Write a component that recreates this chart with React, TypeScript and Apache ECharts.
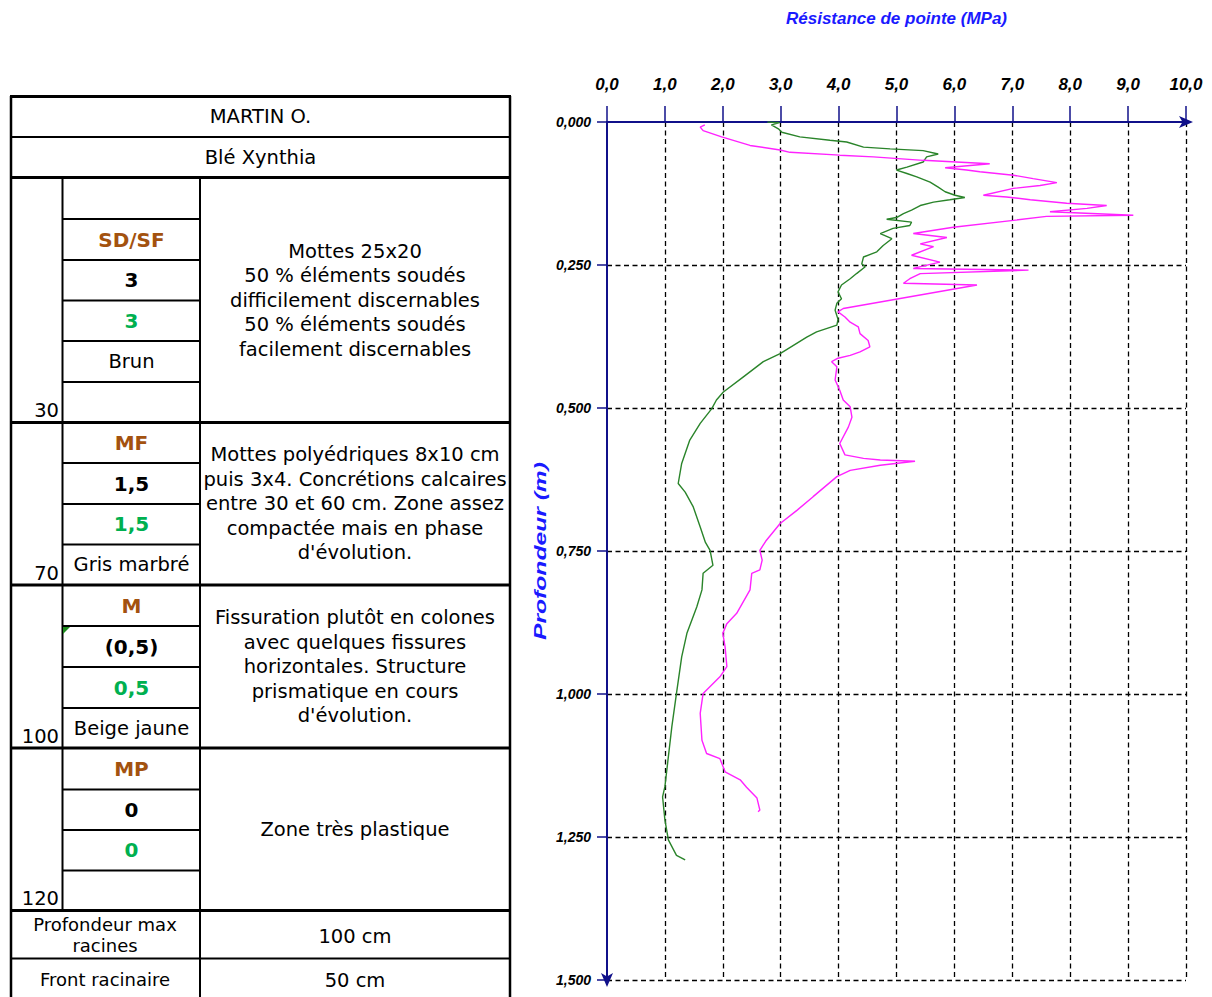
import React, { useEffect, useRef } from 'react';
import * as echarts from 'echarts';

// ---------- chart data (MPa vs depth in m) ----------
const greenValue = [
  2.77, 2.98, 2.84, 2.96, 3.02, 3.33, 3.85, 4.14, 4.43, 4.89,
  5.46, 5.72, 5.52, 5.46, 5.18, 5.0, 5.18, 5.35, 5.58, 5.72,
  5.84, 6.01, 6.18, 5.92, 5.64, 5.41, 5.26, 5.12, 5.0, 4.83,
  5.26, 5.23, 4.94, 4.72, 4.92, 4.77, 4.66, 4.43, 4.4, 4.46,
  4.31, 4.2, 4.05, 3.99, 4.05, 3.97, 3.94, 3.99, 3.97, 3.62,
  3.45, 2.99, 2.7, 2.35, 2.01, 1.89, 1.81, 1.61, 1.43, 1.29,
  1.23, 1.35, 1.49, 1.61, 1.7, 1.78, 1.83, 1.66, 1.64, 1.55,
  1.38, 1.29, 1.2, 1.12, 1.0, 0.96, 1.0, 1.06, 1.2, 1.35,
];
const greenDepth = [
  0.0, 0.001, 0.005, 0.012, 0.018, 0.026, 0.032, 0.035, 0.044, 0.047,
  0.05, 0.056, 0.061, 0.07, 0.079, 0.084, 0.09, 0.096, 0.105, 0.114,
  0.122, 0.128, 0.132, 0.136, 0.14, 0.146, 0.154, 0.16, 0.167, 0.17,
  0.175, 0.181, 0.186, 0.195, 0.204, 0.216, 0.227, 0.236, 0.248, 0.253,
  0.265, 0.274, 0.285, 0.297, 0.309, 0.317, 0.329, 0.345, 0.355, 0.367,
  0.376, 0.405, 0.419, 0.446, 0.472, 0.486, 0.501, 0.527, 0.556, 0.597,
  0.632, 0.647, 0.673, 0.708, 0.735, 0.749, 0.775, 0.789, 0.818, 0.848,
  0.894, 0.935, 0.999, 1.057, 1.162, 1.18, 1.22, 1.255, 1.282, 1.29,
];
const magentaValue = [
  1.69, 1.61, 1.66, 1.98, 2.47, 2.99, 3.16, 4.02, 4.6, 5.46,
  6.61, 5.84, 6.21, 6.44, 7.02, 7.36, 7.77, 7.48, 7.02, 6.5,
  6.9, 7.31, 7.94, 8.63, 8.29, 7.65, 9.09, 7.59, 7.02, 5.98,
  5.29, 5.87, 5.41, 5.64, 5.26, 5.75, 5.29, 7.28, 5.41, 5.23,
  5.12, 6.39, 4.08, 3.99, 4.11, 4.2, 4.34, 4.37, 4.51, 4.54,
  4.37, 4.2, 3.99, 3.88, 3.97, 3.94, 4.02, 4.08, 4.2, 4.23,
  4.17, 4.02, 4.11, 4.43, 4.72, 5.32, 4.72, 4.2, 3.97, 3.56,
  3.28, 2.99, 2.74, 2.64, 2.68, 2.64, 2.5, 2.47, 2.24, 2.07,
  2.0, 2.04, 2.07, 1.95, 1.66, 1.61, 1.64, 1.72, 1.95, 2.04,
  2.3, 2.41, 2.59, 2.64, 2.61,
];
const magentaDepth = [
  0.005, 0.009, 0.015, 0.026, 0.041, 0.049, 0.053, 0.058, 0.061, 0.067,
  0.073, 0.08, 0.084, 0.087, 0.093, 0.099, 0.106, 0.111, 0.116, 0.128,
  0.131, 0.136, 0.142, 0.146, 0.151, 0.157, 0.163, 0.165, 0.172, 0.184,
  0.195, 0.202, 0.213, 0.218, 0.233, 0.245, 0.256, 0.259, 0.265, 0.274,
  0.282, 0.285, 0.326, 0.332, 0.341, 0.35, 0.358, 0.37, 0.382, 0.393,
  0.402, 0.408, 0.413, 0.419, 0.428, 0.451, 0.469, 0.486, 0.498, 0.516,
  0.533, 0.562, 0.582, 0.588, 0.591, 0.593, 0.6, 0.609, 0.62, 0.655,
  0.679, 0.702, 0.733, 0.749, 0.766, 0.783, 0.789, 0.818, 0.859, 0.877,
  0.894, 0.918, 0.952, 0.97, 0.999, 1.034, 1.081, 1.104, 1.113, 1.136,
  1.15, 1.163, 1.182, 1.203, 1.206,
];

// ---------- table texts ----------
const headerRows = ['MARTIN O.', 'Blé Xynthia'];
const horizonDepths = ['30', '70', '100', '120'];
const horizonClasses = ['SD/SF', 'MF', 'M', 'MP'];
const horizonBlackValues = ['3', '1,5', '(0,5)', '0'];
const horizonGreenValues = ['3', '1,5', '0,5', '0'];
const horizonColours = ['Brun', 'Gris marbré', 'Beige jaune', ''];
const horizonDescriptions = [
  'Mottes 25x20\n50 % éléments soudés\ndifficilement discernables\n50 % éléments soudés\nfacilement discernables',
  "Mottes polyédriques 8x10 cm\npuis 3x4. Concrétions calcaires\nentre 30 et 60 cm. Zone assez\ncompactée mais en phase\nd'évolution.",
  "Fissuration plutôt en colones\navec quelques fissures\nhorizontales. Structure\nprismatique en cours\nd'évolution.",
  'Zone très plastique',
];
const footerLabels = ['Profondeur max\nracines', 'Front racinaire'];
const footerValues = ['100 cm', '50 cm'];

const xAxisTitle = 'Résistance de pointe (MPa)';
const yAxisTitle = 'Profondeur (m)';

// ---------- layout (positions only) ----------
const TL = 11; // table left
const TR = 510; // table right
const C1 = 62.5;
const C2 = 200;
const FONT = 'DejaVu Sans';
const BROWN = '#a3520f';
const GREEN_TXT = '#00b050';
const MAIN_SIZE = 19.5;

// sub-row boundaries for each horizon (col 2)
const horizonRowY = [
  [177.5, 219, 260, 300.5, 341, 382, 422.5],
  [422.5, 463, 504, 544.5, 585],
  [585, 626, 667, 708, 748],
  [748, 789.5, 830, 870.5, 910.5],
];

function hline(y: number, x1: number, x2: number, w: number) {
  return { type: 'line', silent: true, shape: { x1, y1: y, x2, y2: y }, style: { stroke: '#000', lineWidth: w } };
}
function vline(x: number, y1: number, y2: number, w: number) {
  return { type: 'line', silent: true, shape: { x1: x, y1, x2: x, y2 }, style: { stroke: '#000', lineWidth: w } };
}
function txt(text: string, x: number, y: number, opts: any = {}) {
  const align = opts.align || 'center';
  return {
    type: 'text',
    silent: true,
    x,
    y,
    style: {
      text,
      fill: opts.color || '#000',
      font: `${opts.weight || 'normal'} ${opts.size || MAIN_SIZE}px "${FONT}"`,
      textAlign: align,
      align,
      textVerticalAlign: 'middle',
      verticalAlign: 'middle',
      lineHeight: opts.lineHeight || 24.5,
    },
  };
}

function buildTable() {
  const g: any[] = [];
  // header
  g.push(txt(headerRows[0], 260.5, 116.5));
  g.push(txt(headerRows[1], 260.5, 157));
  // horizons
  horizonRowY.forEach((rows, h) => {
    const top = rows[0];
    const bottom = rows[rows.length - 1];
    let cells: string[];
    if (h === 0) cells = ['', horizonClasses[h], horizonBlackValues[h], horizonGreenValues[h], horizonColours[h], ''];
    else cells = [horizonClasses[h], horizonBlackValues[h], horizonGreenValues[h], horizonColours[h]];
    const offset = h === 0 ? 1 : 0;
    cells.forEach((c, i) => {
      if (!c) return;
      const cy = (rows[i] + rows[i + 1]) / 2;
      const k = i - offset;
      let color = '#000';
      let weight = 'normal';
      let size = MAIN_SIZE;
      if (k === 0) { color = BROWN; weight = 'bold'; size = 20; }
      if (k === 1) { weight = 'bold'; size = 20; }
      if (k === 2) { color = GREEN_TXT; weight = 'bold'; size = 20; }
      g.push(txt(c, 131.5, cy, { color, weight, size }));
    });
    for (let i = 1; i < rows.length - 1; i++) g.push(hline(rows[i], C1, C2, 2));
    // depth label
    g.push(txt(horizonDepths[h], 59, bottom - 12, { align: 'right' }));
    // description
    g.push(txt(horizonDescriptions[h], 355, (top + bottom) / 2));
    g.push(hline(bottom, TL, TR, 3));
  });
  // footer
  g.push(txt(footerLabels[0], 105, 935, { size: 18, lineHeight: 21 }));
  g.push(txt(footerValues[0], 355, 936));
  g.push(txt(footerLabels[1], 105, 979.5, { size: 18 }));
  g.push(txt(footerValues[1], 355, 980));
  // grid lines
  g.push(hline(96.5, TL - 1, TR + 1, 3));
  g.push(hline(137, TL, TR, 2));
  g.push(hline(177.5, TL, TR, 3));
  g.push(hline(958.5, TL, TR, 2));
  g.push(vline(TL, 96, 997, 2.5));
  g.push(vline(TR, 96, 997, 2.5));
  g.push(vline(C1, 177, 910, 2));
  g.push(vline(C2, 177, 997, 2));
  // comment indicator
  g.push({ type: 'polygon', silent: true, shape: { points: [[63, 627], [70, 627], [63, 634]] }, style: { fill: '#1e8a1e' } });
  // y-axis title (stretched like the original)
  g.push({
    type: 'text',
    silent: true,
    x: 540,
    y: 551,
    rotation: Math.PI / 2,
    scaleX: 1.45,
    style: {
      text: yAxisTitle,
      fill: '#1a1aff',
      font: 'italic bold 17px "Liberation Sans"',
      textAlign: 'center',
      align: 'center',
      textVerticalAlign: 'middle',
      verticalAlign: 'middle',
    },
  });
  return g;
}

const axisBlue = '#10108a';
const tickFont = { color: '#000', fontFamily: 'Liberation Sans', fontWeight: 'bold', fontStyle: 'italic' };

export default function App() {
  const ref = useRef<HTMLDivElement>(null);
  useEffect(() => {
    if (!ref.current) return;
    const chart = echarts.init(ref.current, null, { renderer: 'svg' });
    const option: any = {
      animation: false,
      backgroundColor: '#fff',
      grid: { left: 607, top: 122, width: 579, height: 858, containLabel: false },
      xAxis: {
        type: 'value',
        position: 'top',
        min: 0,
        max: 10,
        interval: 1,
        name: xAxisTitle,
        nameLocation: 'middle',
        nameGap: 95,
        nameTextStyle: { color: '#1a1aff', fontFamily: 'Liberation Sans', fontWeight: 'bold', fontStyle: 'italic', fontSize: 17 },
        axisLine: { show: true, symbol: ['none', 'arrow'], symbolSize: [9, 14], symbolOffset: [0, 7], lineStyle: { color: axisBlue, width: 2 } },
        axisTick: { show: true, inside: false, length: 16, lineStyle: { color: axisBlue, width: 1.5 } },
        axisLabel: {
          ...tickFont,
          margin: 29,
          fontSize: 17,
          formatter: (v: number) => v.toFixed(1).replace('.', ','),
        },
        splitLine: { show: true, showMinLine: false, lineStyle: { color: '#000', width: 1.3, type: [5, 3.5] } },
      },
      yAxis: {
        type: 'value',
        inverse: true,
        min: 0,
        max: 1.5,
        interval: 0.25,
        axisLine: { show: true, symbol: ['arrow', 'none'], symbolSize: [9, 14], symbolOffset: [-7, 0], lineStyle: { color: axisBlue, width: 2 } },
        axisTick: { show: true, inside: false, length: 10, lineStyle: { color: axisBlue, width: 1.5 } },
        axisLabel: {
          ...tickFont,
          margin: 16,
          fontSize: 14,
          formatter: (v: number) => v.toFixed(3).replace('.', ','),
        },
        splitLine: { show: true, showMinLine: false, lineStyle: { color: '#000', width: 1.3, type: [5, 3.5] } },
      },
      series: [
        {
          type: 'line',
          name: 'green',
          data: greenValue.map((v, i) => [v, greenDepth[i]]),
          showSymbol: false,
          symbol: 'none',
          lineStyle: { color: '#2a842a', width: 1.4 },
          z: 3,
        },
        {
          type: 'line',
          name: 'magenta',
          data: magentaValue.map((v, i) => [v, magentaDepth[i]]),
          showSymbol: false,
          symbol: 'none',
          lineStyle: { color: '#ff22ff', width: 1.4 },
          z: 3,
        },
      ],
      graphic: buildTable(),
    };
    chart.setOption(option);
    return () => chart.dispose();
  }, []);
  return <div ref={ref} style={{ position: 'absolute', left: 0, top: 0, width: 1212, height: 997 }} />;
}
